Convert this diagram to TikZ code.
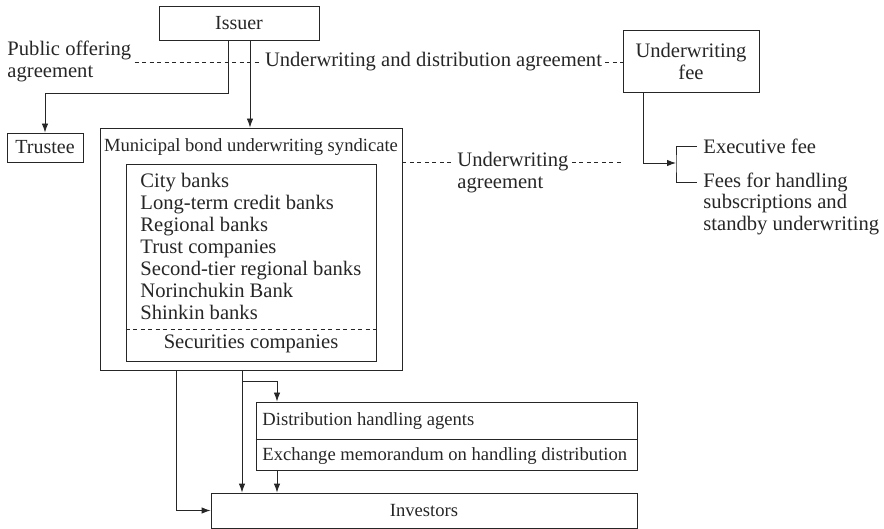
\documentclass[tikz,border=0pt]{standalone}
\usepackage{fontspec}
\setmainfont{Liberation Serif}
\usetikzlibrary{arrows.meta}
\begin{document}
\begin{tikzpicture}[x=1pt,y=-1pt,
  font=\fontsize{18.6}{22}\selectfont,
  line width=0.9pt, draw=black!85, text=black!85,
  big/.style={font=\fontsize{20.6}{22}\selectfont},
  mid/.style={font=\fontsize{20}{22}\selectfont},
  box/.style={draw, inner sep=0pt},
  lbl/.style={inner sep=3pt},
  arr/.style={-{Latex[length=9pt,width=6.5pt]}},
  dsh/.style={dash pattern=on 4pt off 3.5pt}]
\useasboundingbox (0,0) rectangle (884,529);

% boxes
\node[box, mid, minimum width=160pt, minimum height=34pt] (issuer) at (239,23) {Issuer};
\node[box, mid, minimum width=76pt, minimum height=29pt] (trustee) at (45,147.5) {Trustee};
\node[box, minimum width=302pt, minimum height=242pt] (synd) at (251,249) {};
\node[lbl] (syndt) at (251,147) {Municipal bond underwriting syndicate};
\node[box, minimum width=250pt, minimum height=197pt] (inner) at (251,262.5) {};
\node[lbl, big, align=left, anchor=west] (items) at (137,246.5) {City banks\\Long-term credit banks\\Regional banks\\Trust companies\\Second-tier regional banks\\Norinchukin Bank\\Shinkin banks};
\node[lbl, big] (sec) at (251,344) {Securities companies};
\draw[dsh] (inner.west |- 0,329) coordinate (dl) -- (inner.east |- dl);

\node[box, big, minimum width=136pt, minimum height=62pt, align=center] (fee) at (691,61) {Underwriting\\fee};

\node[box, minimum width=381pt, minimum height=68pt] (dist) at (446.5,436) {};
\node[lbl, anchor=west] (dha) at (259,421) {Distribution handling agents};
\node[lbl, anchor=west] (exm) at (259,456) {Exchange memorandum on handling distribution};
\draw (dist.west |- 0,439) coordinate (dv) -- (dist.east |- dv);

\node[box, minimum width=426pt, minimum height=35pt] (inv) at (424,510.5) {Investors};

% labels
\node[lbl, big, align=left, anchor=west] (pub) at (4,61.5) {Public offering\\agreement};
\node[lbl, big] (uda) at (433.5,62) {Underwriting and distribution agreement};
\node[lbl, big, anchor=west] (ua1) at (454,162) {Underwriting};
\node[lbl, big, anchor=west] (ua2) at (454,185) {agreement};
\node[lbl, big, anchor=west, inner sep=6pt] (exec) at (697,146) {Executive fee};
\node[lbl, big, anchor=west, inner sep=6pt] (f1) at (697,182) {Fees for handling};
\node[lbl, big, anchor=west, inner sep=6pt, align=left] (f2) at (697,215) {subscriptions and\\standby underwriting};

% dashed agreements
\draw[dsh] (pub.east |- uda) -- (uda.west);
\draw[dsh] (uda.east) -- (fee.west |- uda);
\draw[dsh] (synd.east |- ua1) -- (ua1.west);
\draw[dsh] (ua1.east) -- (fee.west |- ua1);

% arrows from issuer
\draw[arr] ([xshift=-11pt]issuer.south) -- ++(0,53) -| (trustee.north);
\draw[arr] ([xshift=11pt]issuer.south) -- ([xshift=11pt]issuer.south |- synd.north);

% fee split
\coordinate (brk) at (676,163);
\draw[arr] ([xshift=-48pt]fee.south) |- (brk);
\draw (exec.west) -| (brk) |- (f1.west);

% bottom flows
\draw[arr] ([xshift=-75pt]synd.south) |- (inv.west);
\draw[arr] ([xshift=-9pt]synd.south) -- ([xshift=-9pt]synd.south |- inv.north);
\draw[arr] ([xshift=-9pt,yshift=-11pt]synd.south) -| ([xshift=-169.5pt]dist.north);
\draw[arr] ([xshift=-169.5pt]dist.south) -- ([xshift=-169.5pt]dist.south |- inv.north);
\end{tikzpicture}
\end{document}
